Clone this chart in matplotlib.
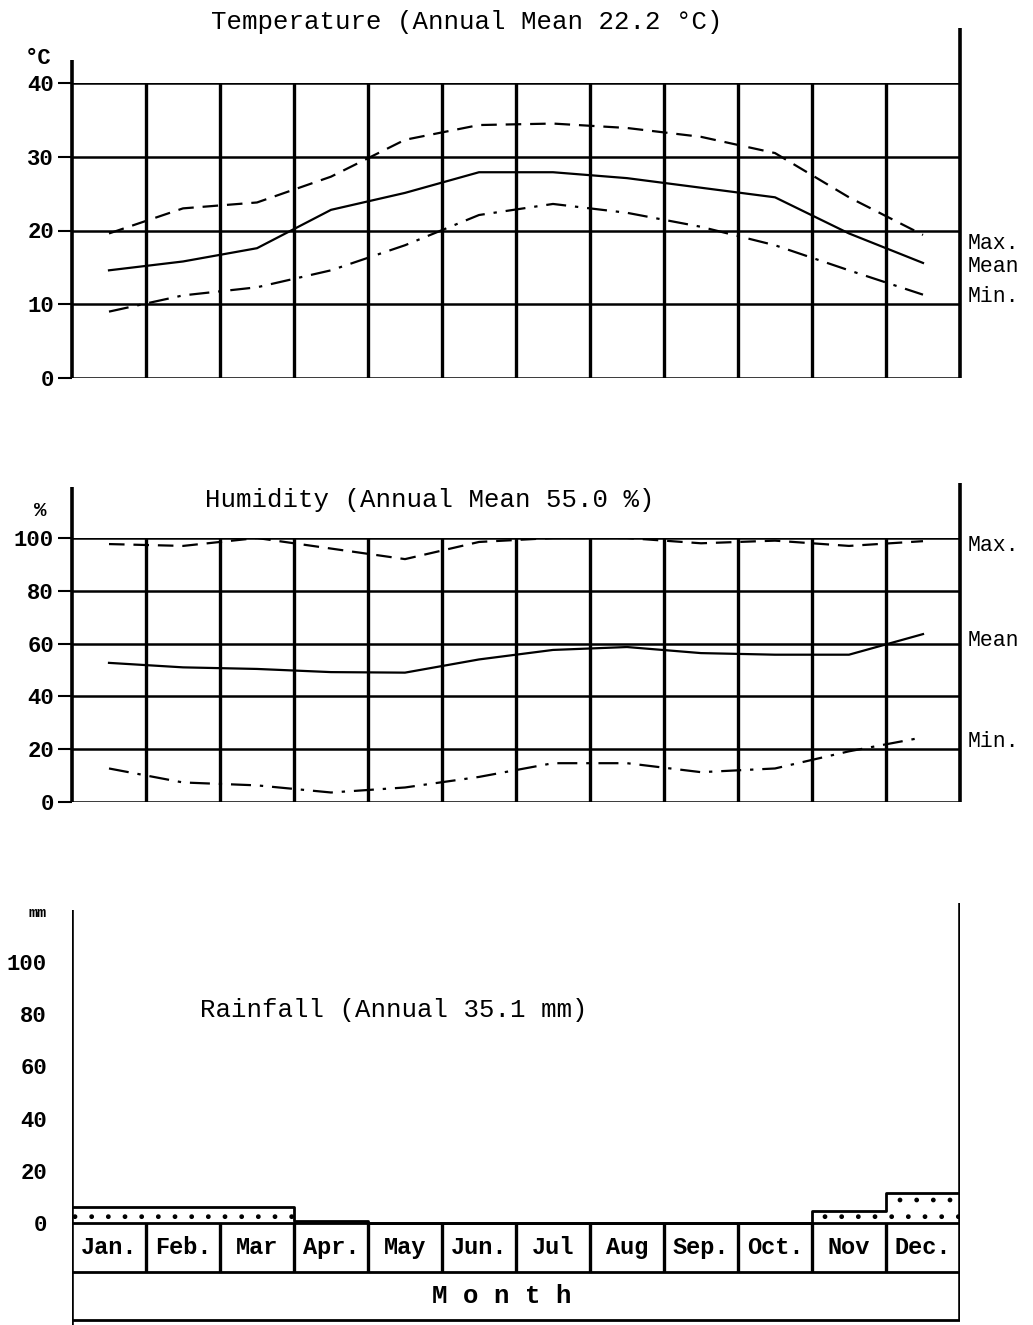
import numpy as np
import matplotlib
matplotlib.use('Agg')
import matplotlib.pyplot as plt

plt.rcParams['font.family'] = ['Liberation Mono', 'DejaVu Sans Mono']

months = ['Jan.', 'Feb.', 'Mar', 'Apr.', 'May', 'Jun.', 'Jul', 'Aug', 'Sep.', 'Oct.', 'Nov', 'Dec.']
temp_max = [19.6, 23.0, 23.8, 27.3, 32.3, 34.3, 34.5, 33.9, 32.7, 30.5, 24.5, 19.4]
temp_mean = [14.6, 15.8, 17.6, 22.8, 25.1, 27.9, 27.9, 27.1, 25.8, 24.5, 19.6, 15.6]
temp_min = [9.0, 11.2, 12.3, 14.6, 18.0, 22.1, 23.6, 22.4, 20.5, 18.0, 14.6, 11.3]
hum_max = [97.7, 97.0, 100.0, 96.0, 92.0, 98.5, 100.0, 100.0, 98.0, 99.0, 97.0, 98.8]
hum_mean = [52.7, 51.0, 50.4, 49.2, 49.0, 54.0, 57.6, 58.7, 56.4, 55.8, 55.8, 63.6]
hum_min = [12.7, 7.4, 6.3, 3.6, 5.5, 9.5, 14.7, 14.7, 11.3, 12.7, 19.2, 24.5]
rain = [6.0, 6.0, 6.0, 1.0, 0, 0, 0, 0, 0, 0, 4.6, 11.5]

W, H = 1033, 1325
fig = plt.figure(figsize=(W / 100, H / 100), dpi=100)


def px_axes(x0, y_top, x1, y_bot):
    return fig.add_axes([x0 / W, 1 - y_bot / H, (x1 - x0) / W, (y_bot - y_top) / H])


def ftext(x, y, s, **kw):
    fig.text(x / W, 1 - y / H, s, **kw)


mid = np.arange(12) + 0.5
dash = (0, (7, 4))
dashdot = (0, (9, 4, 1.5, 4))


def grid_panel(ax, ymax, step, left_top, right_top):
    ax.set_xlim(0, 12)
    ax.set_ylim(0, ymax)
    for s in ax.spines.values():
        s.set_visible(False)
    ax.vlines(np.arange(1, 12), 0, ymax, color='black', lw=2.4)
    ax.hlines(np.arange(0, ymax + 1, step), 0, 12, color='black', lw=1.8)
    ax.vlines(0, 0, left_top, color='black', lw=2.6, clip_on=False)
    ax.vlines(12, 0, right_top, color='black', lw=2.6, clip_on=False)
    ax.set_xticks([])
    ax.set_yticks(np.arange(0, ymax + 1, step))
    ax.tick_params(axis='y', length=10, width=1.5, pad=3, labelsize=16)
    for t in ax.get_yticklabels():
        t.set_fontweight('bold')


# Temperature
ax1 = px_axes(72, 83, 960, 378)
grid_panel(ax1, 40, 10, 43.1, 47.5)
ax1.plot(mid, temp_max, color='black', lw=1.6, ls=dash)
ax1.plot(mid, temp_mean, color='black', lw=1.6)
ax1.plot(mid, temp_min, color='black', lw=1.6, ls=dashdot)
tr1 = ax1.get_yaxis_transform()
for y, s in [(18.3, 'Max.'), (15.1, 'Mean'), (11.0, 'Min.')]:
    ax1.text(1.009, y, s, transform=tr1, fontsize=15.5, va='center', ha='left')
ftext(467, 22, 'Temperature (Annual Mean 22.2 °C)', fontsize=18.5, ha='center', va='center')
ftext(38, 58, '°C', fontsize=16, fontweight='bold', ha='center', va='center')

# Humidity
ax2 = px_axes(72, 538, 960, 802)
grid_panel(ax2, 100, 20, 119.3, 120.8)
ax2.plot(mid, hum_max, color='black', lw=1.6, ls=dash)
ax2.plot(mid, hum_mean, color='black', lw=1.6)
ax2.plot(mid, hum_min, color='black', lw=1.6, ls=dashdot)
tr2 = ax2.get_yaxis_transform()
for y, s in [(97.3, 'Max.'), (61.0, 'Mean'), (23.1, 'Min.')]:
    ax2.text(1.009, y, s, transform=tr2, fontsize=15.5, va='center', ha='left')
ftext(205, 500, 'Humidity (Annual Mean 55.0 %)', fontsize=18.5, ha='left', va='center')
ftext(40, 510, '%', fontsize=15, fontweight='bold', ha='center', va='center')

# Rainfall
ax3 = px_axes(72, 903, 960, 1325)
ax3.set_xlim(0, 12)
ax3.set_ylim(-39, 122.6)
for s in ax3.spines.values():
    s.set_visible(False)
ax3.bar(np.arange(12), rain, width=1, align='edge', color='white',
        edgecolor='black', linewidth=0, hatch='.')
ax3.step(np.arange(13), rain + [rain[-1]], where='post', color='black', lw=2)
ax3.hlines([0, -18.8, -37.2], 0, 12, color='black', lw=2)
ax3.vlines(np.arange(1, 12), -18.8, 0, color='black', lw=2.4)
ax3.vlines(0, -39, 120, color='black', lw=2.6)
ax3.vlines(12, -37.2, 122.6, color='black', lw=2.6)
for xm, m in zip(mid, months):
    ax3.text(xm, -9.4, m, fontsize=17, fontweight='bold', ha='center', va='center')
ax3.text(5.81, -28, 'M o n t h', fontsize=18.5, fontweight='bold', ha='center', va='center')
ax3.set_xticks([])
ax3.set_yticks(np.arange(0, 101, 20))
ax3.tick_params(axis='y', length=0, pad=18, labelsize=16)
for t in ax3.get_yticklabels():
    t.set_fontweight('bold')
ftext(200, 1010, 'Rainfall (Annual 35.1 mm)', fontsize=18.5, ha='left', va='center')
ftext(38, 913, 'mm', fontsize=11, fontweight='bold', ha='center', va='center')

fig.savefig('out.png', dpi=100)
